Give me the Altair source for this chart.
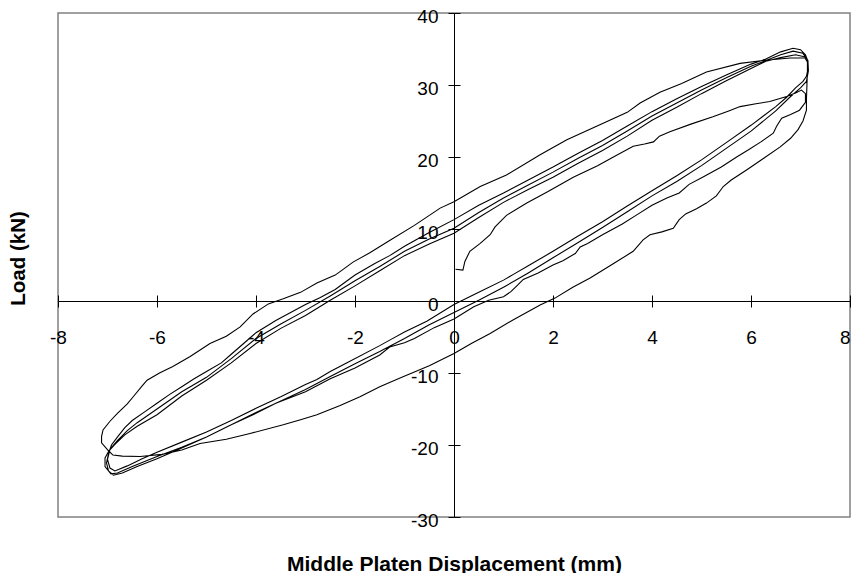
import altair as alt
import pandas as pd

# ---- data (x: displacement mm, y: load kN) ----
x_ticks = [-8, -6, -4, -2, 0, 2, 4, 6, 8]
y_ticks = [-30, -20, -10, 0, 10, 20, 30, 40]

# first loading from rest
load0 = [(0.03, 4.4), (0.18, 4.3), (0.22, 5.5), (0.32, 6.9), (0.53, 8.0), (0.73, 9.2),
         (0.83, 10.3), (1.06, 11.9), (1.47, 13.6), (1.9, 15.2), (2.41, 17.2), (2.9, 18.8),
         (3.22, 20.0), (3.62, 21.5), (3.85, 21.8), (4.03, 22.1), (4.15, 22.9), (4.36, 23.5),
         (4.8, 24.6), (5.23, 25.6), (5.55, 26.4), (5.78, 27.0), (6.1, 27.4), (6.38, 27.7),
         (6.72, 28.4), (6.9, 28.9), (7.02, 29.3)]

# unloading, bumpy branch
unload_b = [(7.1, 28.8), (7.1, 27.6), (6.98, 26.5), (6.8, 25.9), (6.62, 25.4), (6.52, 24.3),
            (6.45, 23.3), (6.2, 22.1), (5.95, 21.0), (5.71, 20.0), (5.4, 18.6), (5.05, 17.3),
            (4.75, 16.2), (4.55, 15.0), (4.3, 14.3), (4.0, 13.3), (3.7, 12.0), (3.4, 10.7),
            (3.0, 9.2), (2.7, 8.0), (2.55, 7.5), (2.45, 6.6), (2.2, 5.6), (2.0, 5.0), (1.7, 3.9),
            (1.4, 3.0), (1.3, 2.3), (1.15, 1.3), (1.0, 0.6), (0.7, 0.1), (0.4, -0.8), (0.0, -2.5),
            (-0.4, -3.7), (-0.8, -5.2), (-1.0, -5.8), (-1.3, -6.4), (-1.5, -7.5), (-2.0, -9.3),
            (-2.5, -10.8), (-3.0, -12.6), (-3.3, -13.4), (-3.6, -14.2), (-4.0, -15.6),
            (-4.5, -17.2), (-5.0, -18.9), (-5.5, -20.4), (-6.0, -21.9), (-6.4, -23.0),
            (-6.7, -23.9), (-6.88, -24.2), (-6.98, -23.6), (-7.02, -22.5), (-6.98, -21.2)]

reload_2 = [(-6.92, -20.0), (-6.8, -18.9), (-6.65, -17.6), (-6.5, -16.6), (-6.25, -15.4),
            (-6.0, -14.2), (-5.75, -13.0), (-5.5, -11.9), (-5.25, -10.8), (-5.0, -9.8),
            (-4.7, -8.6), (-4.5, -7.4), (-4.25, -5.9), (-4.0, -4.4), (-3.6, -2.7), (-3.3, -1.6),
            (-3.0, -0.5), (-2.7, 0.5), (-2.4, 1.6), (-2.0, 3.6), (-1.6, 5.2), (-1.3, 6.3),
            (-1.0, 7.6), (-0.5, 9.5), (0.0, 11.3), (0.5, 13.3), (1.0, 15.0), (1.5, 16.8),
            (2.0, 18.6), (2.5, 20.5), (3.0, 22.3), (3.5, 24.3), (4.0, 26.3), (4.5, 28.1),
            (5.0, 29.8), (5.5, 31.4), (6.0, 32.9), (6.3, 33.6), (6.6, 34.6), (6.85, 35.1),
            (7.0, 34.9), (7.1, 34.2), (7.14, 33.5)]

# outermost unloading branch
unload_outer = [(7.14, 32.0), (7.13, 30.0), (7.12, 28.0), (7.12, 26.5), (7.05, 25.0),
                (6.95, 23.8), (6.8, 22.6), (6.59, 21.4), (6.25, 19.8), (5.91, 18.2), (5.6, 16.8),
                (5.44, 15.9), (5.3, 14.6), (5.1, 13.6), (4.9, 12.8), (4.68, 12.1), (4.55, 11.3),
                (4.43, 10.1), (4.2, 9.6), (3.96, 9.2), (3.82, 8.5), (3.62, 6.9), (3.2, 5.1),
                (2.75, 3.2), (2.4, 1.9), (2.04, 0.4), (1.74, -0.55), (1.2, -2.6), (0.73, -4.5),
                (0.35, -5.9), (0.0, -7.3), (-0.5, -9.0), (-1.09, -10.7), (-1.5, -11.9),
                (-1.9, -13.3), (-2.3, -14.5), (-2.77, -15.8), (-3.1, -16.5), (-3.45, -17.2),
                (-4.12, -18.4), (-4.6, -19.2), (-5.13, -19.8), (-5.5, -20.7), (-5.9, -21.3),
                (-6.34, -21.6), (-6.7, -21.55), (-6.89, -21.4), (-6.98, -20.8)]

# outermost reloading branch
reload_outer = [(-7.12, -19.7), (-7.12, -18.8), (-7.09, -17.9), (-6.95, -16.7), (-6.8, -15.6),
                (-6.6, -14.3), (-6.48, -13.3), (-6.3, -11.8), (-6.2, -11.0), (-5.95, -10.0),
                (-5.68, -9.1), (-5.33, -7.7), (-4.93, -5.9), (-4.6, -4.9), (-4.32, -3.6),
                (-4.06, -1.8), (-3.75, -0.4), (-3.45, 0.3), (-3.1, 1.2), (-2.77, 2.5),
                (-2.4, 3.6), (-2.24, 4.4), (-2.04, 5.4), (-1.7, 6.7), (-1.35, 8.2), (-0.8, 10.5),
                (-0.28, 12.9), (0.0, 13.8), (0.53, 15.9), (1.06, 17.5), (1.74, 20.3),
                (2.28, 22.4), (3.08, 24.9), (3.5, 26.2), (3.76, 27.5), (4.16, 29.0), (4.6, 30.2),
                (5.1, 31.8), (5.78, 33.0), (6.24, 33.4), (6.79, 33.75), (7.09, 33.75),
                (7.14, 33.2)]

unload_2 = [(7.15, 32.2), (7.12, 31.2), (7.05, 30.5), (6.9, 29.6), (6.72, 28.3), (6.5, 27.0),
            (6.0, 24.4), (5.5, 22.0), (5.0, 19.6), (4.5, 17.4), (4.0, 15.3), (3.5, 13.2),
            (3.0, 11.0), (2.5, 9.0), (2.0, 6.9), (1.5, 4.9), (1.2, 3.7), (1.0, 2.9), (0.5, 1.2),
            (0.0, -0.5), (-0.55, -2.8), (-1.0, -4.3), (-1.29, -5.4), (-1.5, -6.2),
            (-2.17, -8.6), (-2.5, -9.8), (-2.77, -10.9), (-3.0, -11.6), (-3.5, -13.3),
            (-4.0, -14.9), (-4.5, -16.6), (-5.0, -18.2), (-5.5, -19.6), (-6.0, -21.0),
            (-6.3, -21.9), (-6.6, -22.9), (-6.85, -23.6), (-6.95, -23.2), (-7.0, -22.0),
            (-6.95, -20.6)]

reload_3 = [(-6.8, -19.4), (-6.6, -18.0), (-6.4, -16.9), (-6.0, -15.0), (-5.5, -12.6),
            (-5.0, -10.6), (-4.5, -8.0), (-4.0, -5.2), (-3.5, -3.2), (-3.0, -1.3), (-2.5, 0.7),
            (-2.0, 2.8), (-1.5, 4.8), (-1.0, 6.9), (-0.5, 8.6), (0.0, 10.1), (0.5, 12.3),
            (1.0, 14.3), (1.5, 16.1), (2.0, 17.9), (2.5, 19.8), (3.0, 21.6), (3.5, 23.6),
            (4.0, 25.7), (4.5, 27.5), (5.0, 29.3), (5.5, 31.0), (6.0, 32.6), (6.3, 33.4),
            (6.6, 34.2), (6.85, 34.7), (7.05, 34.4), (7.15, 33.4)]

unload_3 = [(7.16, 32.0), (7.12, 30.5), (7.0, 29.6), (6.8, 28.4), (6.5, 26.4), (6.0, 23.6),
            (5.5, 21.2), (5.0, 18.8), (4.5, 16.6), (4.0, 14.6), (3.5, 12.4), (3.0, 10.2),
            (2.5, 8.1), (2.0, 6.0), (1.5, 3.9), (1.0, 1.9), (0.5, 0.1), (0.0, -1.6),
            (-0.5, -3.3), (-1.0, -5.2), (-1.5, -7.0), (-2.0, -8.7), (-2.5, -10.5),
            (-3.0, -12.3), (-3.5, -13.9), (-4.0, -15.5), (-4.5, -17.2), (-5.0, -18.9),
            (-5.5, -20.3), (-6.0, -21.6), (-6.5, -23.0), (-6.8, -23.9), (-6.93, -24.0),
            (-7.05, -23.0), (-7.05, -21.8), (-6.97, -20.8)]

reload_4 = [(-6.85, -19.9), (-6.65, -18.6), (-6.4, -17.4), (-6.0, -15.8), (-5.5, -13.2),
            (-5.0, -11.0), (-4.5, -8.6), (-4.0, -5.9), (-3.5, -3.8), (-3.0, -2.0), (-2.5, 0.1),
            (-2.0, 2.1), (-1.5, 4.2), (-1.0, 6.3), (-0.5, 7.9), (0.0, 9.4), (0.5, 11.6),
            (1.0, 13.7), (1.5, 15.5), (2.0, 17.2), (2.5, 19.1), (3.0, 20.9), (3.5, 22.9),
            (4.0, 25.1), (4.5, 26.9), (5.0, 28.8), (5.5, 30.6), (6.0, 32.3), (6.3, 33.3),
            (6.6, 33.8), (6.9, 34.2), (7.1, 33.9)]

branches = [load0, unload_b, reload_2, unload_outer, reload_outer,
            unload_2, reload_3, unload_3, reload_4]

rows = []
k = 0
for br in branches:
    for px, py in br:
        rows.append({"x": px, "y": py, "i": k})
        k += 1
df = pd.DataFrame(rows)

FONT = "Liberation Sans"
W, H = 792, 504
xscale = alt.Scale(domain=[-8, 8], nice=False, zero=False)
yscale = alt.Scale(domain=[-30, 40], nice=False, zero=False)
plain_minus = "'' + datum.value"

base = alt.Chart(df)

curve = base.mark_line(color="black", strokeWidth=1.1).encode(
    x=alt.X("x:Q", scale=xscale, axis=alt.Axis(
        orient="bottom", offset=-216, values=x_ticks, tickSize=6, tickColor="black",
        tickWidth=1, domainColor="black", domainWidth=1, grid=False,
        labelFont=FONT, labelFontSize=19, labelColor="black", labelPadding=21,
        labelFlush=False, labelOverlap=False, labelExpr=plain_minus,
        labelAlign={"condition": {"test": "datum.value == 8", "value": "right"},
                    "value": "center"},
        title="Middle Platen Displacement (mm)", titleFont=FONT, titleFontSize=21,
        titleFontWeight="bold", titleColor="black", titleX=396, titleY=269,
        titleBaseline="alphabetic", titleAlign="center", zindex=1)),
    y=alt.Y("y:Q", scale=yscale, axis=alt.Axis(
        orient="left", offset=-396, values=y_ticks, tickSize=6, tickColor="black",
        tickWidth=1, domainColor="black", domainWidth=1, grid=False,
        labelFont=FONT, labelFontSize=19, labelColor="black", labelPadding=10,
        labelOffset=3.5, labelOverlap=False, labelFlush=False, labelExpr=plain_minus,
        title="Load (kN)", titleFont=FONT, titleFontSize=20.5, titleFontWeight="bold",
        titleColor="black", titleAngle=270, titleX=-429.5, titleY=245,
        titleBaseline="alphabetic", titleAlign="center", zindex=1)),
    order="i:Q",
)

ticks_other_side = base.mark_line(opacity=0).encode(
    x=alt.X("x:Q", scale=xscale, axis=alt.Axis(
        orient="top", offset=-288, values=x_ticks, tickSize=6, tickColor="black",
        tickWidth=1, domain=False, labels=False, grid=False, title="")),
    y=alt.Y("y:Q", scale=yscale, axis=alt.Axis(
        orient="right", offset=-396, values=y_ticks, tickSize=6, tickColor="black",
        tickWidth=1, domain=False, labels=False, grid=False, title="")),
    order="i:Q",
)

chart = alt.layer(curve, ticks_other_side).resolve_axis(
    x="independent", y="independent"
).properties(
    width=W, height=H,
    autosize=alt.AutoSizeParams(type="none"),
    padding={"left": 50, "top": 5, "right": 1, "bottom": 56},
).configure_view(stroke="#808080", strokeWidth=1.5)

chart.save("out.html", embed_options={"renderer": "svg", "actions": False})
